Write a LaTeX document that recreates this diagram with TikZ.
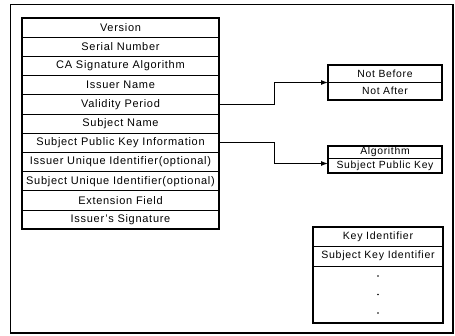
\documentclass[tikz,border=0pt]{standalone}
\usepackage{fontspec}
\setmainfont[LetterSpace=6.5]{Liberation Sans}
\usetikzlibrary{arrows.meta,positioning}

\begin{document}
\begin{tikzpicture}[x=1pt, y=-1pt, node distance=0pt,
  every node/.style={font=\fontsize{11}{12}\selectfont, inner sep=0pt, outer sep=0pt},
  field/.style={draw, line width=0.7pt, minimum width=197pt, minimum height=19.2pt},
  subfield/.style={draw, line width=0.7pt, minimum width=114pt, font=\fontsize{10.4}{12}\selectfont},
  keyfield/.style={draw, line width=0.7pt, minimum width=130pt, minimum height=19.5pt, font=\fontsize{10.6}{12}\selectfont},
  frame/.style={draw, line width=1.6pt},
  link/.style={-{Latex[length=7pt,width=5pt]}, line width=1pt}]
\useasboundingbox (0,0) rectangle (455,335);
\draw[line width=1.2pt] (10.5,4.5) rectangle (453,333);
% certificate fields
\node[field] (ver) at (120.5,27.6) {Version};
\node[field, below=of ver] (ser) {Serial Number};
\node[field, below=of ser] (casig) {CA Signature Algorithm};
\node[field, below=of casig] (iname) {Issuer Name};
\node[field, below=of iname] (val) {Validity Period};
\node[field, below=of val] (sname) {Subject Name};
\node[field, below=of sname] (spki) {Subject Public Key Information};
\node[field, below=of spki] (iuid) {Issuer Unique Identifier(optional)};
\node[field, below=of iuid] (suid) {Subject Unique Identifier(optional)};
\node[field, below=of suid] (ext) {Extension Field};
\node[field, below=of ext] (isig) {Issuer's Signature};
\draw[frame] (ver.north west) rectangle (isig.south east);
% validity
\node[subfield, minimum height=17.5pt] (nbefore) at (385,73.75) {Not Before};
\node[subfield, minimum height=17.5pt, below=of nbefore] (nafter) {Not After};
\draw[frame] (nbefore.north west) rectangle (nafter.south east);
% public key
\node[subfield, minimum height=12pt] (alg) at (385,152) {Algorithm};
\node[subfield, minimum height=15pt, below=of alg] (spk) {Subject Public Key};
\draw[frame] (alg.north west) rectangle (spk.south east);
% extension
\node[keyfield] (keyid) at (378,236.75) {Key Identifier};
\node[keyfield, below=of keyid] (skid) {Subject Key Identifier};
\node[draw, line width=0.7pt, minimum width=130pt, minimum height=57pt, below=of skid] (dots) {};
\draw[frame] (keyid.north west) rectangle (dots.south east);
\fill ([yshift=18.5pt]dots.center) circle (0.9);
\fill (dots.center) circle (0.9);
\fill ([yshift=-18.5pt]dots.center) circle (0.9);
% connectors
\draw[link] (val.east) -- ++(55,0) |- (nbefore.south west);
\draw[link] (spki.east) -- ++(55,0) |- ([yshift=2pt]spk.west);
\end{tikzpicture}
\end{document}
